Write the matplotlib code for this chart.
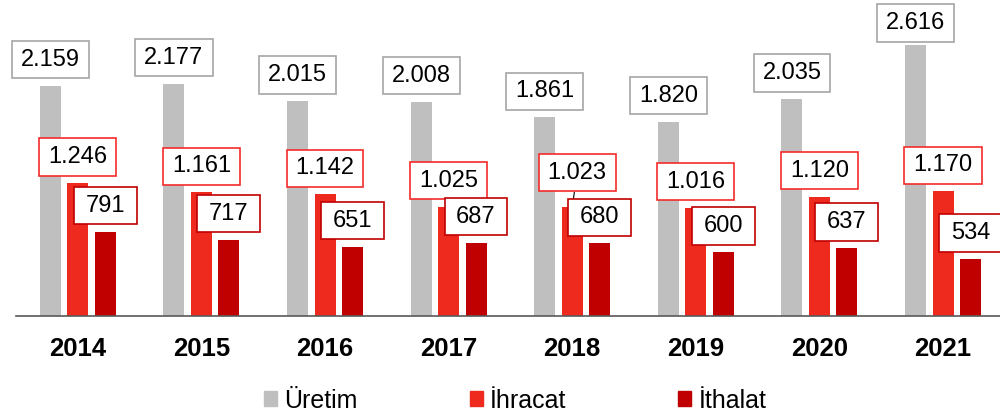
import numpy as np
import matplotlib.pyplot as plt
from matplotlib.patches import Patch

years = ["2014", "2015", "2016", "2017", "2018", "2019", "2020", "2021"]
uretim = [2159, 2177, 2015, 2008, 1861, 1820, 2035, 2616]
ihracat = [1246, 1161, 1142, 1025, 1023, 1016, 1120, 1170]
ithalat = [791, 717, 651, 687, 680, 600, 637, 534]
series_names = ["Üretim", "İhracat", "İthalat"]

GRAY = "#BFBFBF"
RED = "#EE2A1F"
DARK = "#C00000"

plt.rcParams['font.family'] = ['Liberation Sans', 'DejaVu Sans']

fig = plt.figure(figsize=(10, 4.11), dpi=100)
ax = fig.add_axes([0.016, 0.2311, 0.984, 0.6594])

x = np.arange(len(years))
w = 0.17
off = 0.222
ymax = 2540

ax.bar(x - off, uretim, w, color=GRAY)
ax.bar(x, ihracat, w, color=RED)
ax.bar(x + off, ithalat, w, color=DARK)

ax.set_ylim(0, ymax)
ax.set_xlim(-0.5, 7.461)
ax.set_yticks([])
ax.set_xticks(x)
ax.set_xticklabels(years, fontsize=18.5, fontweight="bold")
ax.tick_params(axis="x", length=0, pad=15)
for s in ["top", "left", "right"]:
    ax.spines[s].set_visible(False)
ax.spines["bottom"].set_color("#595959")
ax.spines["bottom"].set_linewidth(1.2)


def label(xpos, val, edge, dx=0, dy=0, leader=False):
    top = min(val, ymax)
    txt = f"{val:,}".replace(",", ".")
    # short labels get wider boxes in the original
    hpad = 0.38 if len(txt) > 3 else 0.49
    arrow = None
    if leader:
        arrow = dict(arrowstyle="-", color="black", lw=0.8, shrinkA=0, shrinkB=5)
    ax.annotate(txt, xy=(xpos, top), xytext=(dx, 26 + dy), textcoords="offset pixels",
                ha="center", va="center", fontsize=17, zorder=5,
                bbox=dict(boxstyle=f"square,pad={hpad}", fc="white", ec=edge, lw=1.2,
                          mutation_aspect=0.323 / hpad),
                arrowprops=arrow, annotation_clip=False)


# hand nudges seen in the original (2018 export label pushed up with a leader line)
nudge_exp = {4: (5, 8)}
nudge_prod = {7: (0, -4)}

for i in range(len(years)):
    dx, dy = nudge_prod.get(i, (0, 0))
    label(x[i] - off, uretim[i], "#A6A6A6", dx, dy)
    dx, dy = nudge_exp.get(i, (0, 0))
    label(x[i], ihracat[i], "#F52A2A", dx, dy, leader=i in nudge_exp)
    label(x[i] + off, ithalat[i], DARK)

handles = [Patch(color=c) for c in [GRAY, RED, DARK]]
fig.legend(handles, series_names, loc="center", bbox_to_anchor=(0.515, 10.5 / 411),
           ncol=3, frameon=False, fontsize=18, handlelength=0.52, handleheight=0.52,
           handletextpad=0.28, columnspacing=4.5, borderpad=0, borderaxespad=0)

fig.savefig("out.png", dpi=100)
